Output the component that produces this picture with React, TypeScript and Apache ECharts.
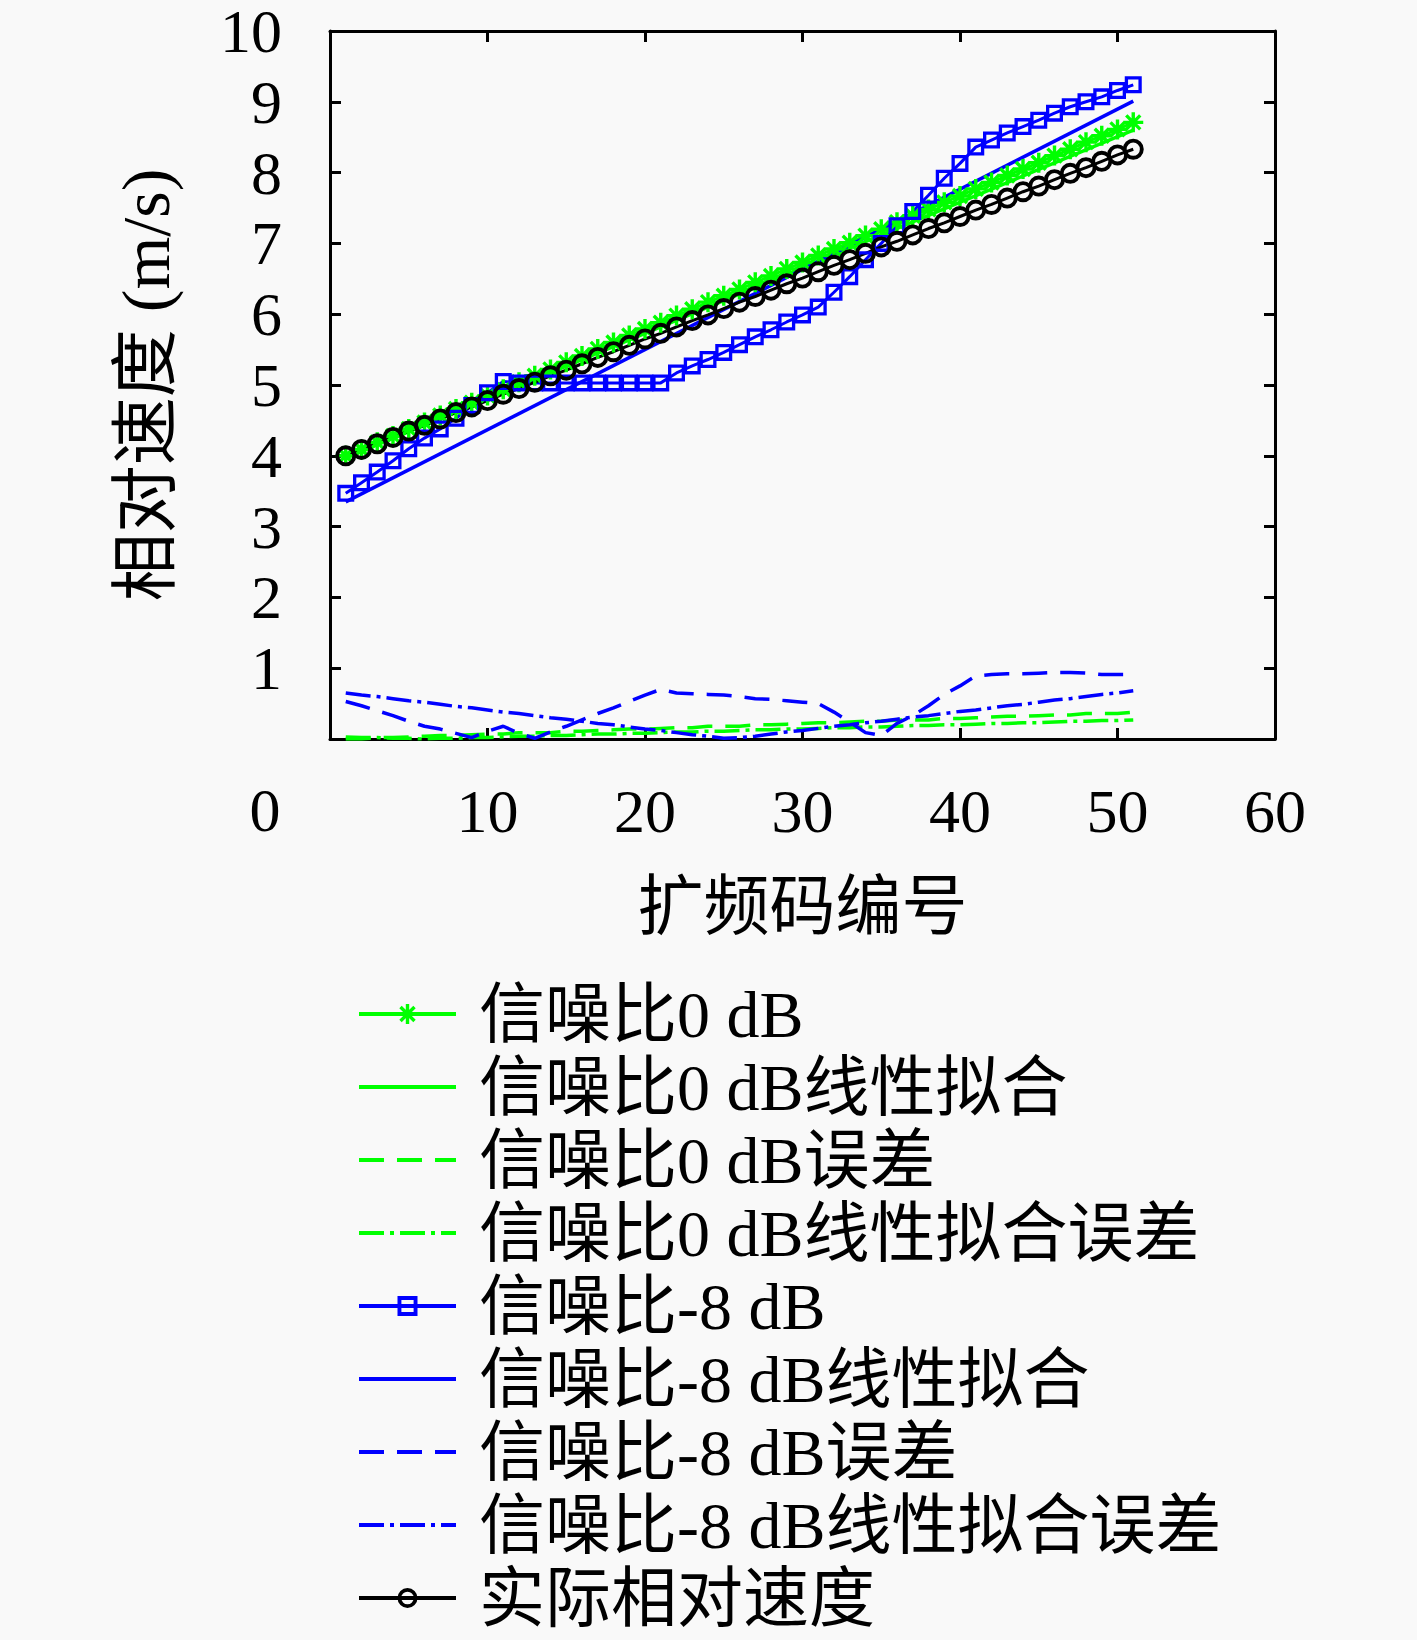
import React, { useEffect, useRef } from "react";
import * as echarts from "echarts";

// spreading code index (x axis)
const codeIndex = [
  1, 2, 3, 4, 5, 6, 7, 8, 9, 10, 11, 12, 13, 14, 15, 16, 17, 18, 19, 20, 21, 22, 23, 24, 25,
  26, 27, 28, 29, 30, 31, 32, 33, 34, 35, 36, 37, 38, 39, 40, 41, 42, 43, 44, 45, 46, 47, 48,
  49, 50, 51,
];

// SNR 0 dB estimate
const snr0 = [
  4.0, 4.09, 4.19, 4.28, 4.38, 4.47, 4.57, 4.66, 4.75, 4.85, 4.94, 5.04, 5.13, 5.22, 5.32, 5.41,
  5.51, 5.6, 5.7, 5.79, 5.88, 5.98, 6.07, 6.17, 6.26, 6.35, 6.45, 6.54, 6.64, 6.73, 6.83, 6.92,
  7.01, 7.11, 7.2, 7.3, 7.39, 7.48, 7.58, 7.67, 7.77, 7.86, 7.96, 8.05, 8.14, 8.24, 8.33, 8.43,
  8.52, 8.61, 8.71,
];

// SNR -8 dB estimate
const snr8 = [
  3.47, 3.62, 3.77, 3.93, 4.1, 4.25, 4.38, 4.53, 4.71, 4.89, 5.05, 5.03, 5.03, 5.03, 5.03, 5.03,
  5.03, 5.03, 5.03, 5.03, 5.03, 5.17, 5.27, 5.36, 5.46, 5.57, 5.68, 5.78, 5.89, 5.99, 6.1, 6.31,
  6.53, 6.77, 7.0, 7.25, 7.45, 7.68, 7.92, 8.13, 8.36, 8.46, 8.56, 8.65, 8.74, 8.84, 8.93, 9.0,
  9.07, 9.16, 9.24,
];

// actual relative speed
const actual = [
  4.0, 4.09, 4.17, 4.26, 4.35, 4.43, 4.52, 4.61, 4.69, 4.78, 4.87, 4.95, 5.04, 5.13, 5.21, 5.3,
  5.39, 5.47, 5.56, 5.65, 5.73, 5.82, 5.91, 5.99, 6.08, 6.17, 6.25, 6.34, 6.43, 6.51, 6.6, 6.69,
  6.77, 6.86, 6.95, 7.03, 7.12, 7.21, 7.29, 7.38, 7.47, 7.55, 7.64, 7.73, 7.81, 7.9, 7.99, 8.07,
  8.16, 8.25, 8.33,
];

// linear fits (end points)
const fitX = [1, 51];
const snr0Fit = [3.97, 8.6];
const snr8Fit = [3.35, 9.01];

// errors
const snr0Err = [
  0.0, 0.0, 0.02, 0.02, 0.03, 0.04, 0.05, 0.05, 0.06, 0.07, 0.07, 0.09, 0.09, 0.09, 0.11, 0.11,
  0.12, 0.13, 0.14, 0.14, 0.15, 0.16, 0.16, 0.18, 0.18, 0.18, 0.2, 0.2, 0.21, 0.22, 0.23, 0.23,
  0.24, 0.25, 0.25, 0.27, 0.27, 0.27, 0.29, 0.29, 0.3, 0.31, 0.32, 0.32, 0.33, 0.34, 0.34, 0.36,
  0.36, 0.36, 0.38,
];
const snr0FitErr = [
  0.03, 0.02, 0.02, 0.01, 0.01, 0.0, 0.01, 0.01, 0.02, 0.02, 0.03, 0.04, 0.04, 0.05, 0.05, 0.06,
  0.07, 0.07, 0.08, 0.08, 0.09, 0.1, 0.1, 0.11, 0.11, 0.12, 0.13, 0.13, 0.14, 0.14, 0.15, 0.16,
  0.16, 0.17, 0.17, 0.18, 0.19, 0.19, 0.2, 0.2, 0.21, 0.22, 0.22, 0.23, 0.23, 0.24, 0.25, 0.25,
  0.26, 0.26, 0.27,
];
const snr8Err = [
  0.53, 0.47, 0.4, 0.33, 0.25, 0.18, 0.14, 0.08, 0.02, 0.11, 0.18, 0.08, 0.01, 0.1, 0.18, 0.27,
  0.36, 0.44, 0.53, 0.62, 0.7, 0.65, 0.64, 0.63, 0.62, 0.6, 0.57, 0.56, 0.54, 0.52, 0.5, 0.38,
  0.24, 0.09, 0.05, 0.22, 0.33, 0.47, 0.63, 0.75, 0.89, 0.91, 0.92, 0.92, 0.93, 0.94, 0.94, 0.93,
  0.91, 0.91, 0.91,
];
const snr8FitErr = [
  0.65, 0.62, 0.6, 0.57, 0.54, 0.52, 0.49, 0.46, 0.44, 0.41, 0.38, 0.36, 0.33, 0.3, 0.28, 0.25,
  0.22, 0.2, 0.17, 0.14, 0.12, 0.09, 0.06, 0.04, 0.01, 0.02, 0.04, 0.07, 0.1, 0.12, 0.15, 0.18,
  0.2, 0.23, 0.25, 0.28, 0.31, 0.33, 0.36, 0.39, 0.41, 0.44, 0.47, 0.49, 0.52, 0.55, 0.57, 0.6,
  0.63, 0.65, 0.68,
];

const GREEN = "#00ff00";
const BLUE = "#0000ff";
const FONT = "'Liberation Serif', 'Noto Sans CJK SC', serif";

// marker outlines (filled rings so the lines show through)
const ASTERISK =
  "path://M0 8.3L20 8.3L20 11.7L0 11.7Z M8.3 0L11.7 0L11.7 20L8.3 20Z M1.8 4.2L4.2 1.8L18.2 15.8L15.8 18.2Z M15.8 1.8L18.2 4.2L4.2 18.2L1.8 15.8Z";
const SQUARE = "path://M0 0L20 0L20 20L0 20Z M3.9 3.9L3.9 16.1L16.1 16.1L16.1 3.9Z";
const CIRCLE =
  "path://M10 0A10 10 0 1 1 10 20A10 10 0 1 1 10 0Z M10 3.7A6.3 6.3 0 1 0 10 16.3A6.3 6.3 0 1 0 10 3.7Z";

const DASH = [25, 13];
const DASHDOT = [25, 6, 4, 6];

const pairs = (xs: number[], ys: number[]) => xs.map((x, i) => [x, ys[i]]);

const App: React.FC = () => {
  const chartRef = useRef<HTMLDivElement>(null);

  useEffect(() => {
    document.body.style.margin = "0";
    if (!chartRef.current) return;
    const chart = echarts.init(chartRef.current, undefined, { renderer: "svg" });

    const axisLine = { show: true, onZero: false, lineStyle: { color: "#000", width: 3 } };
    const axisTick = { show: true, inside: true, length: 11, lineStyle: { color: "#000", width: 3 } };
    const tickLabel = {
      fontSize: 62,
      lineHeight: 52,
      color: "#000",
      fontFamily: FONT,
      formatter: (v: number) => (v === 0 ? "" : String(v)),
    };

    const line = (
      name: string,
      ys: number[],
      color: string,
      opts: { xs?: number[]; symbol?: string; size?: number; type?: any; width?: number } = {}
    ) => ({
      name,
      type: "line",
      data: pairs(opts.xs || codeIndex, ys),
      symbol: opts.symbol || "none",
      symbolSize: opts.size || 14,
      showSymbol: !!opts.symbol,
      itemStyle: { color, opacity: opts.symbol ? 1 : 0 },
      lineStyle: { color, width: opts.width || 3.5, type: opts.type || "solid" },
      emphasis: { disabled: true },
    });

    chart.setOption({
      animation: false,
      backgroundColor: "#f9f9f9",
      textStyle: { fontFamily: FONT },
      grid: { left: 330, top: 31, width: 945, height: 708 },
      xAxis: [
        {
          type: "value",
          min: 0,
          max: 60,
          interval: 10,
          position: "bottom",
          name: "扩频码编号",
          nameLocation: "middle",
          nameGap: 134,
          nameTextStyle: { fontSize: 66, color: "#000", fontFamily: FONT },
          axisLine,
          axisTick,
          splitLine: { show: false },
          axisLabel: { ...tickLabel, margin: 46 },
        },
        {
          type: "value",
          min: 0,
          max: 60,
          interval: 10,
          position: "top",
          axisLine,
          axisTick,
          splitLine: { show: false },
          axisLabel: { show: false },
        },
      ],
      yAxis: [
        {
          type: "value",
          min: 0,
          max: 10,
          interval: 1,
          position: "left",
          name: "相对速度 (m/s)",
          nameLocation: "middle",
          nameGap: 150,
          nameRotate: 90,
          nameTextStyle: { fontSize: 68, color: "#000", fontFamily: FONT },
          axisLine,
          axisTick,
          splitLine: { show: false },
          axisLabel: { ...tickLabel, margin: 48 },
        },
        {
          type: "value",
          min: 0,
          max: 10,
          interval: 1,
          position: "right",
          axisLine,
          axisTick,
          splitLine: { show: false },
          axisLabel: { show: false },
        },
      ],
      legend: {
        orient: "vertical",
        left: 352,
        top: 976,
        height: 660,
        itemWidth: 97,
        itemHeight: 25,
        itemGap: 7,
        selectedMode: false,
        lineStyle: { width: 4 },
        textStyle: {
          fontSize: 66,
          lineHeight: 66,
          color: "#000",
          fontFamily: FONT,
          padding: [0, 0, 0, 18],
        },
      },
      graphic: [
        {
          type: "text",
          x: 265,
          y: 810,
          style: {
            text: "0",
            fontSize: 62,
            fontFamily: FONT,
            fill: "#000",
            align: "center",
            verticalAlign: "middle",
          },
        },
      ],
      series: [
        line("信噪比0 dB", snr0, GREEN, { symbol: ASTERISK, size: 20, width: 3 }),
        line("信噪比0 dB线性拟合", snr0Fit, GREEN, { xs: fitX }),
        line("信噪比0 dB误差", snr0Err, GREEN, { type: DASH }),
        line("信噪比0 dB线性拟合误差", snr0FitErr, GREEN, { type: DASHDOT }),
        line("信噪比-8 dB", snr8, BLUE, { symbol: SQUARE, size: 17, width: 3 }),
        line("信噪比-8 dB线性拟合", snr8Fit, BLUE, { xs: fitX }),
        line("信噪比-8 dB误差", snr8Err, BLUE, { type: DASH }),
        line("信噪比-8 dB线性拟合误差", snr8FitErr, BLUE, { type: DASHDOT }),
        line("实际相对速度", actual, "#000", { symbol: CIRCLE, size: 21, width: 3 }),
      ],
    });

    return () => chart.dispose();
  }, []);

  return <div ref={chartRef} style={{ width: "1417px", height: "1640px" }} />;
};

export default App;
